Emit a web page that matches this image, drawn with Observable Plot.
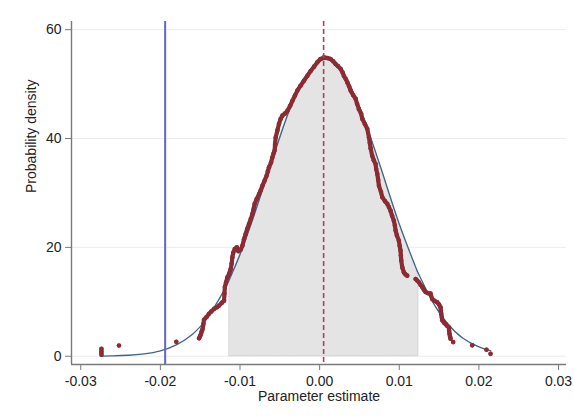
<!DOCTYPE html>
<html>
<head>
<meta charset="utf-8">
<script src="https://cdn.jsdelivr.net/npm/d3@7"></script>
<script src="https://cdn.jsdelivr.net/npm/@observablehq/plot@0.6"></script>
<style>
  html, body { margin: 0; padding: 0; background: #ffffff; }
  #chart { width: 574px; height: 420px; }
</style>
</head>
<body>
<div id="chart"></div>
<script>
// ---- Data ----
const xTitle = "Parameter estimate";
const yTitle = "Probability density";

const xTicks = [-0.03, -0.02, -0.01, 0, 0.01, 0.02, 0.03];
const xTickLabels = ["-0.03", "-0.02", "-0.01", "0.00", "0.01", "0.02", "0.03"];
const yTicks = [0, 20, 40, 60];
const yTickLabels = ["0", "20", "40", "60"];

const xDomain = [-0.03116, 0.0310];
const yDomain = [-1.52, 61.5];

const actualEstimate = -0.0194;   // solid blue line
const meanEstimate = 0.0005;      // dashed red line
const shadeLo = -0.0113;
const shadeHi = 0.0124;

// fitted normal density (blue curve)
const normX = [-0.0274, -0.026, -0.024, -0.022, -0.020, -0.018, -0.016, -0.014, -0.012, -0.0113,
  -0.010, -0.008, -0.006, -0.004, -0.002, 0.000, 0.001, 0.002, 0.004, 0.006, 0.008, 0.010,
  0.012, 0.0124, 0.014, 0.016, 0.018, 0.020, 0.0215];
const normY = [0.03, 0.07, 0.18, 0.45, 1.0, 2.1, 4.0, 7.3, 12.1, 14.2,
  18.7, 26.9, 35.8, 44.4, 50.9, 54.2, 54.5, 53.7, 49.2, 41.9, 33.2, 24.3,
  16.6, 15.2, 10.5, 6.1, 3.3, 1.7, 1.0];

// kernel density of the permutation estimates (red markers)
const redX = [
  -0.0274, -0.0274, -0.0274,
  -0.0252,
  -0.0180,
  -0.01514, -0.0150, -0.0149, -0.0148, -0.0147, -0.0146, -0.01452, -0.0142, -0.01389, -0.0136,
  -0.01326, -0.0129, -0.01263, -0.0123, -0.0120, -0.01195, -0.0119, -0.01175, -0.01158, -0.01135,
  -0.01117, -0.01105, -0.01096, -0.01085, -0.01066, -0.0104, -0.0102, -0.0099, -0.0097, -0.0095,
  -0.00928, -0.0091, -0.00887, -0.00865, -0.00845, -0.0083, -0.00816, -0.0079, -0.00761, -0.0074,
  -0.00719, -0.0069, -0.00665, -0.0065, -0.00636, -0.0061, -0.00594, -0.0058, -0.00565, -0.0056,
  -0.00552, -0.0053, -0.0051, -0.0049, -0.00468, -0.00435, -0.00405, -0.0037, -0.00343, -0.0031,
  -0.0028, -0.0024, -0.00197, -0.00155, -0.00113, -0.0007, -0.00029, 0.0001, 0.00054, 0.001,
  0.00138, 0.0017, 0.002, 0.0023, 0.00263, 0.0029, 0.00305, 0.0033, 0.00348, 0.0037,
  0.00389, 0.0042, 0.00452, 0.0047, 0.00493, 0.0052, 0.00536, 0.0057, 0.00598, 0.00619,
  0.0063, 0.0064, 0.00661, 0.0068, 0.00703, 0.0071, 0.00724, 0.00735, 0.00745, 0.0077,
  0.00787, 0.0082, 0.00849, 0.0087, 0.00891, 0.0091, 0.00932, 0.00945, 0.00954, 0.0097,
  0.00995, 0.01005, 0.01016, 0.0102, 0.01025, 0.01038, 0.01058, 0.0108, 0.011,
  0.01205, 0.01225, 0.01246, 0.01268, 0.01289, 0.0131, 0.0133, 0.0136, 0.01393, 0.01414,
  0.0144, 0.01477, 0.015, 0.01518, 0.01522, 0.01527, 0.01534, 0.0154, 0.0156, 0.01581,
  0.016, 0.01622, 0.01626, 0.01631, 0.01638, 0.01644,
  0.01677,
  0.01916,
  0.02095,
  0.02146
];
const redY = [
  1.36, 0.8, 0.26,
  1.96,
  2.64,
  3.3, 3.7, 4.1, 4.6, 5.0, 5.9, 6.7, 7.2, 7.8, 8.2,
  8.7, 9.0, 9.3, 9.8, 10.2, 11.5, 12.7, 13.6, 14.5, 15.2,
  16.0, 17.0, 18.2, 19.0, 19.7, 20.0, 19.3, 19.6, 20.3, 21.5,
  22.5, 23.4, 24.3, 25.2, 26.1, 27.0, 28.0, 28.9, 29.8, 30.5,
  31.3, 32.3, 33.2, 34.0, 34.7, 35.6, 36.5, 37.2, 37.8, 39.0,
  40.2, 41.5, 42.7, 43.6, 44.2, 44.6, 45.1, 46.0, 46.9, 47.9,
  48.8, 49.7, 50.6, 51.5, 52.4, 53.2, 54.0, 54.6, 54.9, 54.8,
  54.6, 54.2, 53.7, 53.3, 52.8, 52.1, 51.5, 50.9, 50.3, 49.6,
  48.8, 48.0, 47.3, 46.4, 45.4, 44.6, 43.6, 42.6, 41.8, 40.2,
  39.2, 38.2, 36.8, 36.0, 35.3, 34.4, 33.5, 32.4, 31.3, 30.2,
  29.2, 28.5, 28.0, 27.4, 26.7, 25.8, 24.9, 24.0, 23.1, 22.2,
  21.2, 20.3, 19.4, 18.5, 17.6, 16.3, 15.4, 15.0, 14.8,
  14.2, 13.9, 13.6, 13.1, 12.7, 12.2, 11.8, 11.6, 11.5, 10.5,
  10.2, 9.9, 9.5, 9.0, 8.4, 7.8, 7.2, 6.6, 6.2, 5.9,
  5.6, 5.3, 4.7, 4.1, 3.6, 3.2,
  2.6,
  2.0,
  1.2,
  0.44
];
// which markers touch each other (drawn as one thick chain)
const redRun = [
  "a", "a", "a",
  "b",
  "c",
  ...Array(119).fill("main"),
  ...Array(26).fill("right"),
  "d",
  "e",
  "f",
  "g"
];

// ---- Build tables ----
const normal = normX.map((x, i) => ({x, y: normY[i]}));
const shade = normal.filter(d => d.x >= shadeLo && d.x <= shadeHi);
const red = redX.map((x, i) => ({x, y: redY[i], g: redRun[i]}));

const redColor = "#8b2b33";
const axisColor = "#7a7a7a";
const textColor = "#222222";

const chart = Plot.plot({
  width: 574,
  height: 420,
  marginLeft: 71,
  marginRight: 8,
  marginTop: 21,
  marginBottom: 56,
  style: {fontFamily: "'Liberation Sans', Arial, Helvetica, sans-serif", fontSize: "14px", background: "#ffffff", color: textColor},
  x: {domain: xDomain},
  y: {domain: yDomain},
  marks: [
    Plot.ruleY(yTicks, {stroke: "#ececec", strokeWidth: 1}),
    Plot.areaY(shade, {x: "x", y: "y", curve: "natural", fill: "#e4e4e4", stroke: "#cdcdcd", strokeWidth: 0.8}),
    Plot.line(normal, {x: "x", y: "y", curve: "natural", stroke: "#3b6688", strokeWidth: 1.3}),
    Plot.line(red, {x: "x", y: "y", z: "g", stroke: redColor, strokeWidth: 4.2, strokeLinejoin: "round", strokeLinecap: "round"}),
    Plot.dot(red, {x: "x", y: "y", r: 2.3, fill: redColor, stroke: "none"}),
    Plot.ruleX([actualEstimate], {stroke: "#6363d1", strokeWidth: 2}),
    Plot.ruleX([meanEstimate], {stroke: "#a2465c", strokeWidth: 1.6, strokeDasharray: "5,3"}),
    Plot.ruleY([yDomain[0]], {stroke: axisColor, strokeWidth: 1.4}),
    Plot.ruleX([xDomain[0]], {stroke: axisColor, strokeWidth: 1.4}),
    Plot.axisX({ticks: xTicks, tickSize: 6, tickPadding: 6, stroke: axisColor, fill: textColor, label: null,
      tickFormat: d => xTickLabels[xTicks.indexOf(d)]}),
    Plot.axisY({ticks: yTicks, tickSize: 6, tickPadding: 4, stroke: axisColor, fill: textColor, label: null,
      tickFormat: d => yTickLabels[yTicks.indexOf(d)]}),
    Plot.text([xTitle], {text: d => d, frameAnchor: "bottom", dy: 32, lineAnchor: "middle", fill: textColor, fontSize: 14}),
    Plot.text([yTitle], {text: d => d, frameAnchor: "left", dx: -39.5, rotate: -90, lineAnchor: "middle", fill: textColor, fontSize: 14})
  ]
});

document.getElementById("chart").appendChild(chart);
</script>
</body>
</html>
